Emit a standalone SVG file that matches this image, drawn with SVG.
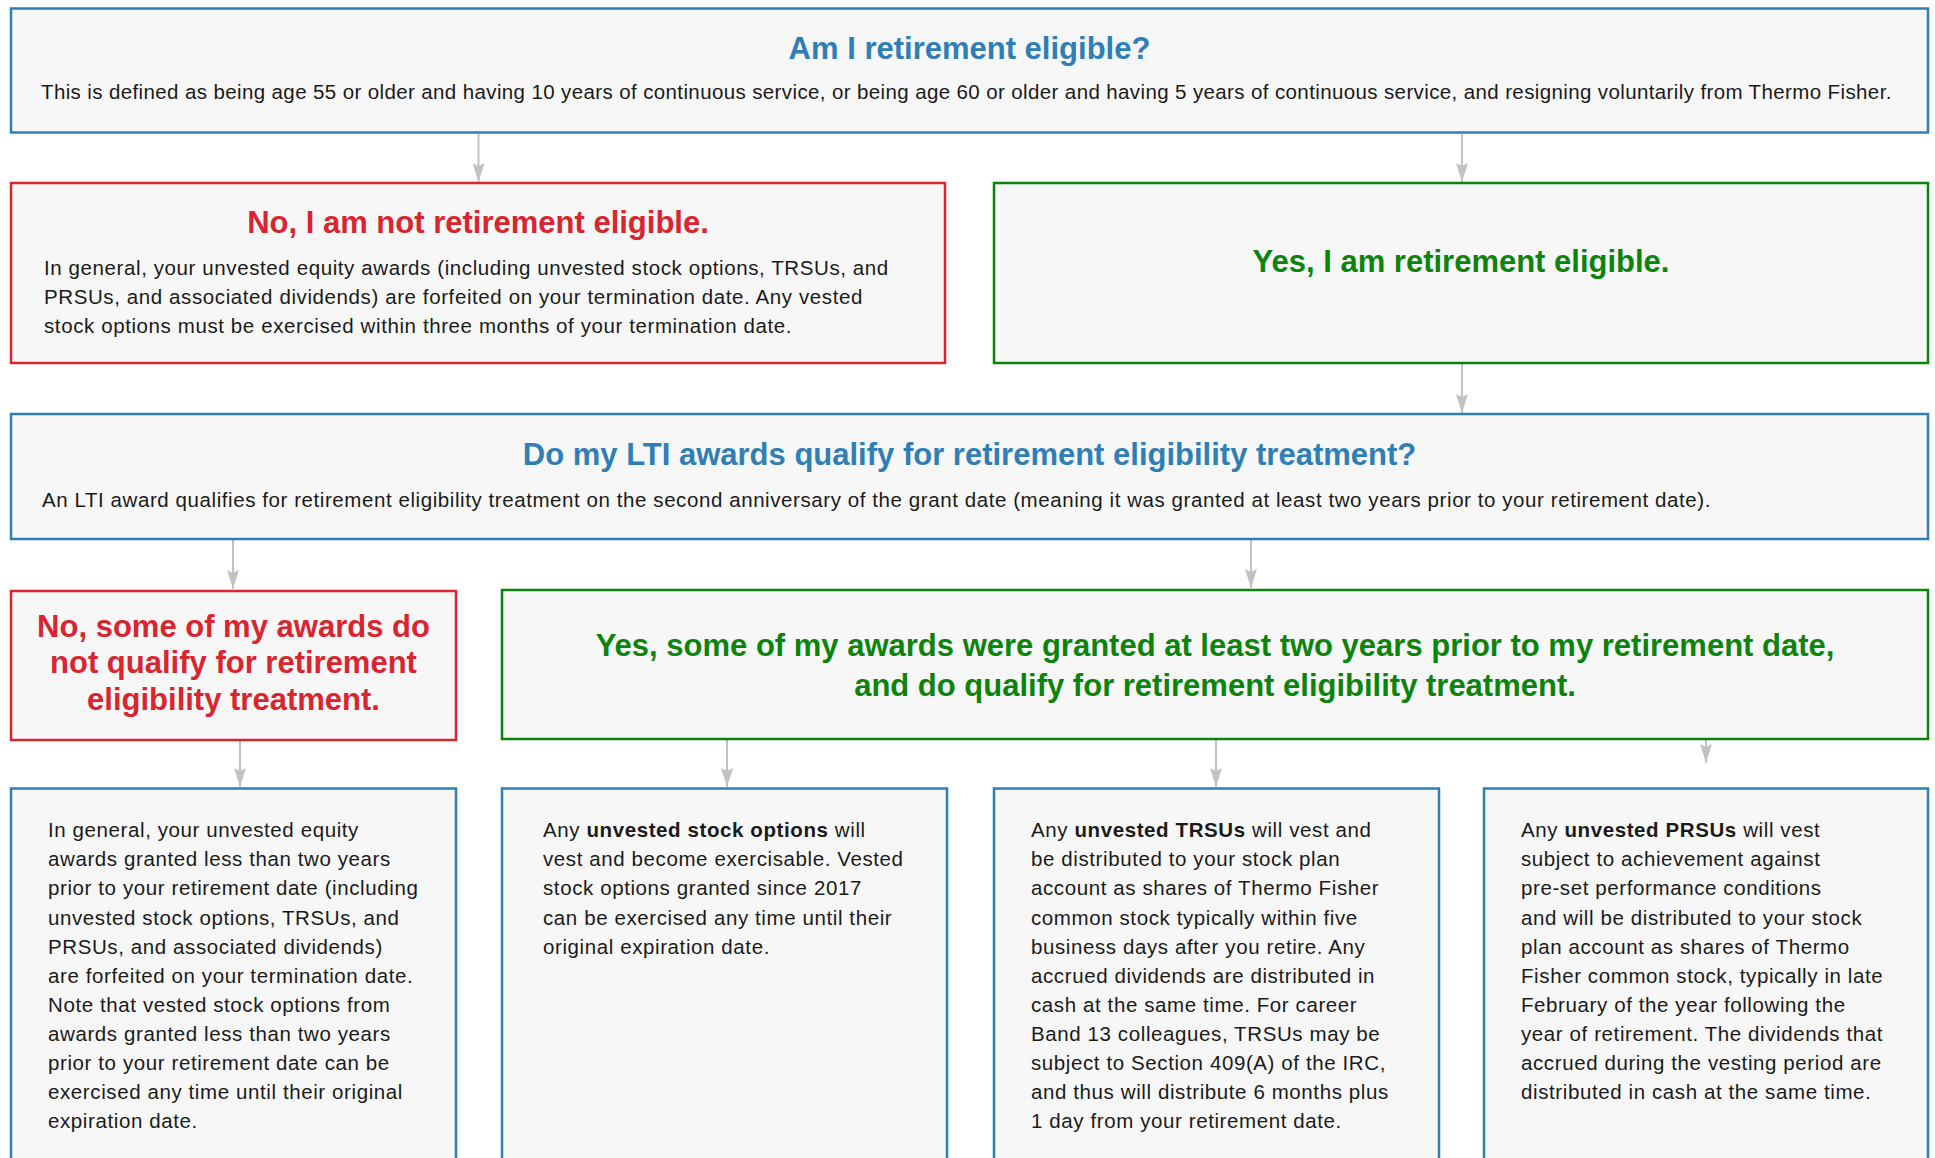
<svg xmlns="http://www.w3.org/2000/svg" width="1935" height="1158" viewBox="0 0 1935 1158">
<defs>
<style>
.box{fill:#f7f7f7;stroke-width:2.5}
.blue{stroke:#2f7fb6}
.red{stroke:#d9252f}
.green{stroke:#0b840b}
text{font-family:"Liberation Sans",Arial,Helvetica,sans-serif}
.t{font-size:31px;font-weight:bold;text-anchor:middle}
.tb{fill:#2f7fb6}
.tr{fill:#d9252f}
.tg{fill:#0b840b}
.b{font-size:20.5px;fill:#1a1a1a;letter-spacing:0.6px}
.bb{font-weight:bold}
.conn line{stroke:#c2c2c2;stroke-width:2;fill:none}
</style>
<marker id="ah" markerUnits="userSpaceOnUse" markerWidth="20" markerHeight="12" refX="19" refY="6" orient="auto">
<path d="M0,0 L19,6 L0,12 L3,6 Z" fill="#c2c2c2"/>
</marker>
</defs>
<rect width="1935" height="1158" fill="#ffffff"/>

<g id="connectors" class="conn">
<line x1="478.5" y1="134" x2="478.5" y2="182" marker-end="url(#ah)"/>
<line x1="1462" y1="134" x2="1462" y2="182" marker-end="url(#ah)"/>
<line x1="1462" y1="364" x2="1462" y2="413" marker-end="url(#ah)"/>
<line x1="233" y1="540" x2="233" y2="589" marker-end="url(#ah)"/>
<line x1="1251" y1="540" x2="1251" y2="588" marker-end="url(#ah)"/>
<line x1="240" y1="741" x2="240" y2="787" marker-end="url(#ah)"/>
<line x1="727" y1="740" x2="727" y2="787" marker-end="url(#ah)"/>
<line x1="1216" y1="740" x2="1216" y2="787" marker-end="url(#ah)"/>
<line x1="1706" y1="740" x2="1706" y2="763" marker-end="url(#ah)"/>
</g>

<g id="q-eligible">
<rect class="box blue" x="11" y="8.5" width="1917" height="124"/>
<text class="t tb" x="969.5" y="59">Am I retirement eligible?</text>
<text class="b" x="41" y="99" textLength="1851" lengthAdjust="spacing">This is defined as being age 55 or older and having 10 years of continuous service, or being age 60 or older and having 5 years of continuous service, and resigning voluntarily from Thermo Fisher.</text>
</g>

<g id="not-eligible">
<rect class="box red" x="11" y="183" width="934" height="180"/>
<text class="t tr" x="478" y="233">No, I am not retirement eligible.</text>
<text class="b" x="44" y="275">In general, your unvested equity awards (including unvested stock options, TRSUs, and</text>
<text class="b" x="44" y="304">PRSUs, and associated dividends) are forfeited on your termination date. Any vested</text>
<text class="b" x="44" y="333">stock options must be exercised within three months of your termination date.</text>
</g>

<g id="eligible">
<rect class="box green" x="994" y="183" width="934" height="180"/>
<text class="t tg" x="1461" y="272">Yes, I am retirement eligible.</text>
</g>

<g id="q-lti">
<rect class="box blue" x="11" y="414" width="1917" height="125"/>
<text class="t tb" x="969.5" y="465">Do my LTI awards qualify for retirement eligibility treatment?</text>
<text class="b" x="42" y="507" textLength="1669" lengthAdjust="spacing">An LTI award qualifies for retirement eligibility treatment on the second anniversary of the grant date (meaning it was granted at least two years prior to your retirement date).</text>
</g>

<g id="not-qualify">
<rect class="box red" x="11" y="591" width="445" height="149"/>
<text class="t tr" x="233.5" y="637">No, some of my awards do</text>
<text class="t tr" x="233.5" y="673">not qualify for retirement</text>
<text class="t tr" x="233.5" y="710">eligibility treatment.</text>
</g>

<g id="qualify">
<rect class="box green" x="502" y="590" width="1426" height="149"/>
<text class="t tg" x="1215" y="656">Yes, some of my awards were granted at least two years prior to my retirement date,</text>
<text class="t tg" x="1215" y="696">and do qualify for retirement eligibility treatment.</text>
</g>

<g id="forfeit-detail">
<rect class="box blue" x="11" y="788.5" width="445" height="420"/>
<text class="b" x="48" y="837">In general, your unvested equity</text>
<text class="b" x="48" y="866">awards granted less than two years</text>
<text class="b" x="48" y="895">prior to your retirement date (including</text>
<text class="b" x="48" y="924.5">unvested stock options, TRSUs, and</text>
<text class="b" x="48" y="953.5">PRSUs, and associated dividends)</text>
<text class="b" x="48" y="982.5">are forfeited on your termination date.</text>
<text class="b" x="48" y="1012">Note that vested stock options from</text>
<text class="b" x="48" y="1041">awards granted less than two years</text>
<text class="b" x="48" y="1070">prior to your retirement date can be</text>
<text class="b" x="48" y="1099">exercised any time until their original</text>
<text class="b" x="48" y="1128">expiration date.</text>
</g>

<g id="options-detail">
<rect class="box blue" x="502" y="788.5" width="445" height="420"/>
<text class="b" x="543" y="837">Any <tspan class="bb">unvested stock options</tspan> will</text>
<text class="b" x="543" y="866">vest and become exercisable. Vested</text>
<text class="b" x="543" y="895">stock options granted since 2017</text>
<text class="b" x="543" y="924.5">can be exercised any time until their</text>
<text class="b" x="543" y="953.5">original expiration date.</text>
</g>

<g id="trsu-detail">
<rect class="box blue" x="994" y="788.5" width="445" height="420"/>
<text class="b" x="1031" y="837">Any <tspan class="bb">unvested TRSUs</tspan> will vest and</text>
<text class="b" x="1031" y="866">be distributed to your stock plan</text>
<text class="b" x="1031" y="895">account as shares of Thermo Fisher</text>
<text class="b" x="1031" y="924.5">common stock typically within five</text>
<text class="b" x="1031" y="953.5">business days after you retire. Any</text>
<text class="b" x="1031" y="982.5">accrued dividends are distributed in</text>
<text class="b" x="1031" y="1012">cash at the same time. For career</text>
<text class="b" x="1031" y="1041">Band 13 colleagues, TRSUs may be</text>
<text class="b" x="1031" y="1070">subject to Section 409(A) of the IRC,</text>
<text class="b" x="1031" y="1099">and thus will distribute 6 months plus</text>
<text class="b" x="1031" y="1128">1 day from your retirement date.</text>
</g>

<g id="prsu-detail">
<rect class="box blue" x="1484" y="788.5" width="444" height="420"/>
<text class="b" x="1521" y="837">Any <tspan class="bb">unvested PRSUs</tspan> will vest</text>
<text class="b" x="1521" y="866">subject to achievement against</text>
<text class="b" x="1521" y="895">pre-set performance conditions</text>
<text class="b" x="1521" y="924.5">and will be distributed to your stock</text>
<text class="b" x="1521" y="953.5">plan account as shares of Thermo</text>
<text class="b" x="1521" y="982.5">Fisher common stock, typically in late</text>
<text class="b" x="1521" y="1012">February of the year following the</text>
<text class="b" x="1521" y="1041">year of retirement. The dividends that</text>
<text class="b" x="1521" y="1070">accrued during the vesting period are</text>
<text class="b" x="1521" y="1099">distributed in cash at the same time.</text>
</g>
</svg>
